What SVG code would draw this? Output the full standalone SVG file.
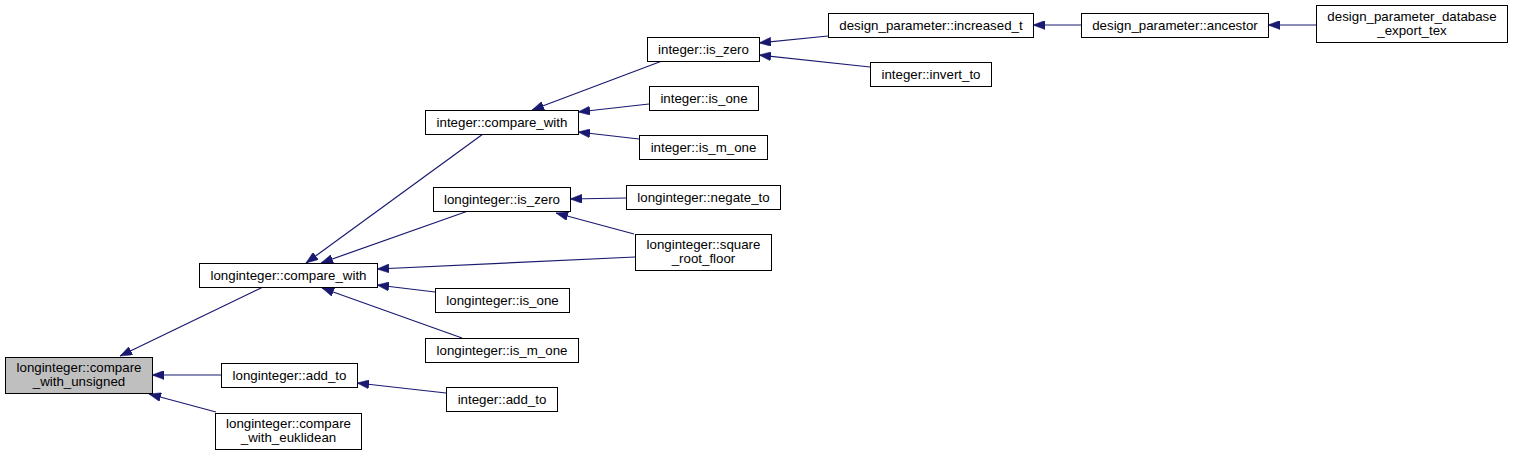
<svg xmlns="http://www.w3.org/2000/svg" width="1513" height="456" viewBox="0 0 1513 456">
<style>
.n rect{fill:#fff;stroke:#000;stroke-width:1}
.n.h rect{fill:#bfbfbf}
.n text{font-family:"Liberation Sans",Arial,sans-serif;font-size:13.3px;fill:#000;text-anchor:middle}
.e line{stroke:#191970;stroke-width:1.2;fill:none}
</style>
<defs>
<marker id="a" markerUnits="userSpaceOnUse" viewBox="0 0 12 9" markerWidth="12" markerHeight="9" refX="12" refY="4.5" orient="auto">
<path d="M0,0 L12,4.5 L0,9 z" fill="#191970" stroke="#191970" stroke-width="0.5"/>
</marker>
</defs>
<rect width="1513" height="456" fill="#fff"/>
<g id="edges" class="e">
<line x1="263" y1="287" x2="120" y2="356" marker-end="url(#a)"/>
<line x1="221" y1="375" x2="152" y2="375" marker-end="url(#a)"/>
<line x1="216" y1="412" x2="149" y2="394" marker-end="url(#a)"/>
<line x1="483" y1="134" x2="306" y2="263" marker-end="url(#a)"/>
<line x1="468" y1="211" x2="321" y2="263" marker-end="url(#a)"/>
<line x1="635" y1="257" x2="377" y2="269" marker-end="url(#a)"/>
<line x1="435" y1="292" x2="377" y2="285" marker-end="url(#a)"/>
<line x1="462" y1="338" x2="322" y2="288" marker-end="url(#a)"/>
<line x1="446" y1="393" x2="357" y2="383" marker-end="url(#a)"/>
<line x1="662" y1="61" x2="532" y2="110" marker-end="url(#a)"/>
<line x1="649" y1="104" x2="578" y2="112" marker-end="url(#a)"/>
<line x1="639" y1="139" x2="578" y2="132" marker-end="url(#a)"/>
<line x1="828" y1="36" x2="759" y2="43" marker-end="url(#a)"/>
<line x1="870" y1="67" x2="759" y2="55" marker-end="url(#a)"/>
<line x1="1081" y1="25" x2="1033" y2="25" marker-end="url(#a)"/>
<line x1="1316" y1="25" x2="1268" y2="25" marker-end="url(#a)"/>
<line x1="626" y1="198" x2="570" y2="199" marker-end="url(#a)"/>
<line x1="634" y1="234" x2="556" y2="213" marker-end="url(#a)"/>
</g>
<g id="n_cwu" class="n h"><rect x="5.5" y="357.5" width="147" height="36"/><text x="79" y="372">longinteger::compare</text><text x="79" y="386">_with_unsigned</text></g>
<g id="n_lcw" class="n"><rect x="199.5" y="263.5" width="178" height="24"/><text x="288.5" y="280">longinteger::compare_with</text></g>
<g id="n_ladd" class="n"><rect x="221.5" y="363.5" width="136" height="24"/><text x="289.5" y="380">longinteger::add_to</text></g>
<g id="n_euk" class="n"><rect x="215.5" y="413.5" width="146" height="36"/><text x="288.5" y="428">longinteger::compare</text><text x="288.5" y="442">_with_euklidean</text></g>
<g id="n_icw" class="n"><rect x="425.5" y="110.5" width="153" height="24"/><text x="502" y="127">integer::compare_with</text></g>
<g id="n_lzero" class="n"><rect x="433.5" y="187.5" width="137" height="24"/><text x="502" y="204">longinteger::is_zero</text></g>
<g id="n_lone" class="n"><rect x="435.5" y="288.5" width="134" height="24"/><text x="502.5" y="305">longinteger::is_one</text></g>
<g id="n_lmone" class="n"><rect x="425.5" y="338.5" width="153" height="24"/><text x="502" y="355">longinteger::is_m_one</text></g>
<g id="n_iadd" class="n"><rect x="446.5" y="387.5" width="111" height="24"/><text x="502" y="404">integer::add_to</text></g>
<g id="n_izero" class="n"><rect x="647.5" y="37.5" width="112" height="24"/><text x="703.5" y="54">integer::is_zero</text></g>
<g id="n_ione" class="n"><rect x="649.5" y="86.5" width="109" height="24"/><text x="704" y="103">integer::is_one</text></g>
<g id="n_imone" class="n"><rect x="639.5" y="135.5" width="128" height="24"/><text x="703.5" y="152">integer::is_m_one</text></g>
<g id="n_neg" class="n"><rect x="626.5" y="185.5" width="154" height="24"/><text x="703.5" y="202">longinteger::negate_to</text></g>
<g id="n_sqrt" class="n"><rect x="635.5" y="234.5" width="136" height="36"/><text x="703.5" y="249">longinteger::square</text><text x="703.5" y="263">_root_floor</text></g>
<g id="n_inc" class="n"><rect x="828.5" y="13.5" width="205" height="24"/><text x="931" y="30">design_parameter::increased_t</text></g>
<g id="n_inv" class="n"><rect x="870.5" y="62.5" width="121" height="24"/><text x="931" y="79">integer::invert_to</text></g>
<g id="n_anc" class="n"><rect x="1081.5" y="13.5" width="187" height="24"/><text x="1175" y="30">design_parameter::ancestor</text></g>
<g id="n_db" class="n"><rect x="1316.5" y="5.5" width="191" height="37"/><text x="1412" y="21">design_parameter_database</text><text x="1412" y="35">_export_tex</text></g>
</svg>
